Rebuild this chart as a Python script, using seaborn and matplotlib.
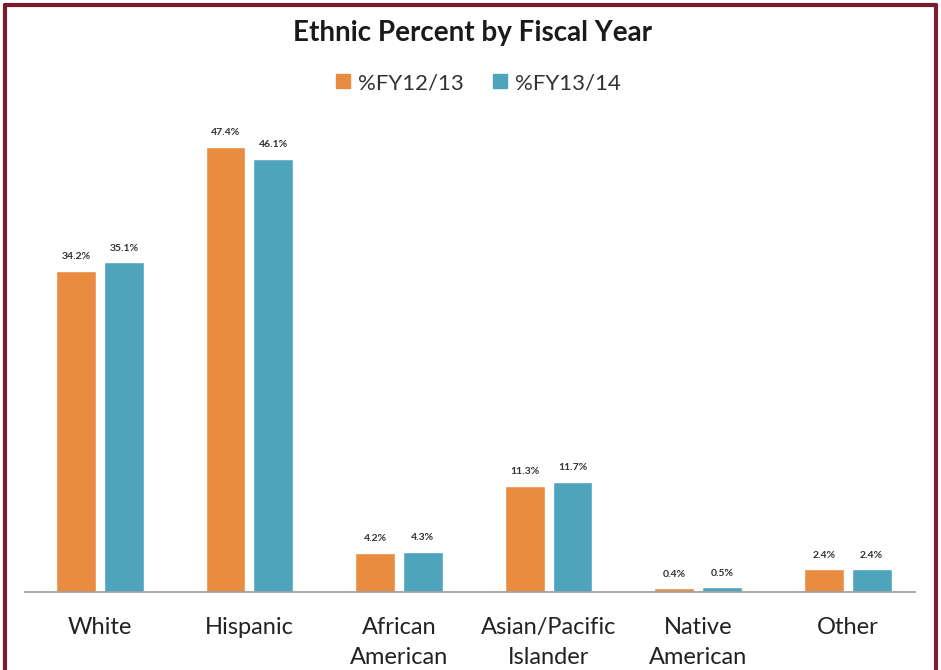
import pandas as pd
import seaborn as sns
import matplotlib.pyplot as plt
from matplotlib.lines import Line2D

# data
categories = ['White', 'Hispanic', 'African\nAmerican', 'Asian/Pacific\nIslander', 'Native\nAmerican', 'Other']
fy1213 = [34.2, 47.4, 4.2, 11.3, 0.4, 2.4]
fy1314 = [35.1, 46.1, 4.3, 11.7, 0.5, 2.4]
series = ['%FY12/13', '%FY13/14']

df = pd.DataFrame({
    'group': categories * 2,
    'year': [series[0]] * len(categories) + [series[1]] * len(categories),
    'pct': fy1213 + fy1314,
})

sns.set_style('white')
plt.rcParams['font.family'] = ['Lato', 'DejaVu Sans']

fig = plt.figure(figsize=(9.41, 6.70), dpi=100)
ax = fig.add_axes([0.0266, 0.1164, 0.9458, 0.7007])

colors = ['#E98C40', '#4EA3BD']
sns.barplot(data=df, x='group', y='pct', hue='year', palette=colors,
            width=0.64, gap=0.167, saturation=1, ax=ax, legend=False)

for cont in ax.containers:
    ax.bar_label(cont, labels=[f'{v:.1f}%' for v in cont.datavalues],
                 padding=7, fontsize=7.5, color='#333333', fontweight='bold')

ax.set_xlim(-0.5, 5.45)
ax.set_ylim(0, 50)
ax.set_xlabel('')
ax.set_ylabel('')
ax.set_yticks([])
for s in ['top', 'right', 'left']:
    ax.spines[s].set_visible(False)
ax.spines['bottom'].set_color('#a0a0a0')
ax.spines['bottom'].set_linewidth(1.3)
ax.tick_params(axis='x', length=0, pad=18, labelsize=17, colors='#222222')
for t in ax.get_xticklabels():
    t.set_linespacing(1.5)

fig.text(0.502, 0.951, 'Ethnic Percent by Fiscal Year', ha='center', va='center',
         fontsize=20, fontweight='bold', color='#1a1a1a')

handles = [Line2D([0], [0], marker='s', linestyle='', markersize=10,
                  markerfacecolor=c, markeredgecolor=c) for c in colors]
fig.legend(handles, series, loc='center', bbox_to_anchor=(0.505, 0.876), ncol=2,
           frameon=False, fontsize=16, handletextpad=0.1, columnspacing=1.0,
           handlelength=1.2, labelcolor='#333333')

# maroon frame around the chart
frame = '#7B1B30'
fig.add_artist(Line2D([0.005, 0.005], [0, 0.993], color=frame, lw=3, transform=fig.transFigure))
fig.add_artist(Line2D([0.995, 0.995], [0, 0.993], color=frame, lw=3, transform=fig.transFigure))
fig.add_artist(Line2D([0.005, 0.995], [0.993, 0.993], color=frame, lw=3, transform=fig.transFigure))

plt.savefig('out.png', dpi=100)
